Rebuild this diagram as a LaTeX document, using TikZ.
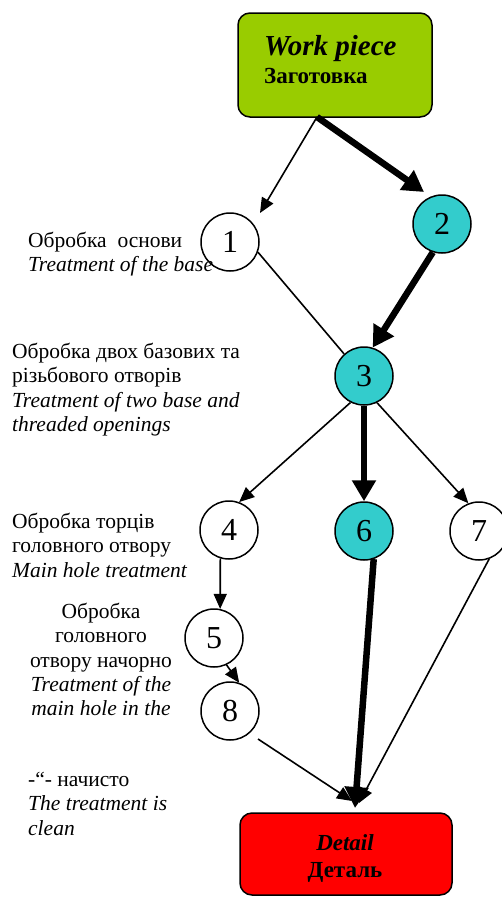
\documentclass[tikz,border=0pt]{standalone}
\usepackage{fontspec}
\setmainfont{Liberation Serif}
\usetikzlibrary{arrows.meta}
\definecolor{wpgreen}{HTML}{99CC00}
\definecolor{opteal}{HTML}{33CCCC}
\definecolor{detred}{HTML}{FF0000}
\begin{document}
\begin{tikzpicture}[x=1pt,y=-1pt,
  op/.style={circle, draw, line width=1.5pt, minimum size=58pt, inner sep=0pt,
    fill=white, font=\fontsize{32}{32}\selectfont},
  opc/.style={op, fill=opteal},
  endbox/.style={draw, line width=1.5pt, rounded corners=12pt, inner sep=0pt},
  lbl/.style={align=left, inner sep=0pt, anchor=north west,
    font=\fontsize{21.5}{24.3}\selectfont},
  plainline/.style={line width=1.6pt},
  flow/.style={line width=1.6pt, -{Triangle[length=15pt,width=13pt]}},
  mainflow/.style={line width=6.5pt, -{Triangle[length=21pt,width=23pt]}},
  boxtitle/.style={inner sep=0pt, font=\fontsize{29}{29}\selectfont\bfseries\itshape},
  boxsub/.style={inner sep=0pt, font=\fontsize{23}{23}\selectfont\bfseries}
]
\useasboundingbox (0,0) rectangle (502,898);

% boxes
\node[endbox, fill=wpgreen, minimum width=194pt, minimum height=104pt] (wp) at (335,65) {};
\node[boxtitle, anchor=base west] (wpt) at (264,55) {Work piece};
\node[boxsub, anchor=base west] (wps) at (264,83) {Заготовка};

\node[endbox, fill=detred, minimum width=212pt, minimum height=82pt] (det) at (346,854) {};
\node[inner sep=0pt, anchor=base, font=\fontsize{23}{23}\selectfont\bfseries\itshape] (dett) at (345,850) {Detail};
\node[boxsub, anchor=base] (dets) at (345,877) {Деталь};

% operations
\node[op]  (n1) at (230,242) {1};
\node[opc] (n2) at (442,224) {2};
\node[opc] (n3) at (364,376) {3};
\node[op]  (n4) at (229,530) {4};
\node[opc] (n6) at (364,531) {6};
\node[op]  (n7) at (479,531) {7};
\node[op]  (n5) at (214,638) {5};
\node[op]  (n8) at (230,711) {8};

% free connector ends
\coordinate (wpout) at (317,117);
\coordinate (in1) at (260,213);
\coordinate (in2) at (424,192);
\coordinate (out8) at (258,739);
\coordinate (inD8) at (352,801);
\coordinate (inD6) at (355,808);
\coordinate (inD7) at (359,803);

% connectors
\draw[flow] (wpout) -- (in1);
\draw[mainflow] (wpout) -- (in2);
\draw[plainline] (n1.-20) -- (n3.132);
\draw[mainflow] (n2.-108) -- (n3.73);
\draw[flow] (n3.-117) -- (n4.70);
\draw[mainflow] (n3.south) -- (n6.north);
\draw[flow] (n3.-64) -- (n7.111);
\draw[flow] (n4.-107) -- (n5.78);
\draw[flow] (n5.-65) -- (n8.72);
\draw[flow] (out8) -- (inD8);
\draw[flow] (n7.-70) -- (inD7);
\draw[mainflow] (n6.-71) -- (inD6);

% labels
\node[lbl] (l1) at (28,232) {Обробка \ основи\\\textit{Treatment of the base}};
\node[lbl] (l2) at (12,343) {Обробка двох базових та\\різьбового отворів\\\textit{Treatment of two base and}\\\textit{threaded openings}};
\node[lbl] (l3) at (12,513) {Обробка торців\\головного отвору\\\textit{Main hole treatment}};
\node[lbl, align=center, anchor=north] (l4) at (101,603) {Обробка\\головного\\отвору начорно\\\textit{Treatment of the}\\\textit{main hole in the}};
\node[lbl] (l5) at (28,772) {-“- начисто\\\textit{The treatment is}\\\textit{clean}};
\end{tikzpicture}
\end{document}
